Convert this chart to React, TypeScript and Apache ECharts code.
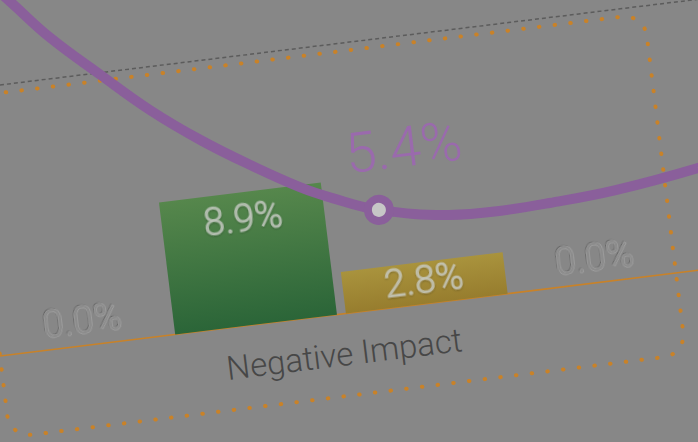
import React, { useEffect, useRef } from "react";
import * as echarts from "echarts";

// ---- data ----
const categories = ["A", "B", "C", "D"];
const barValues = [0.0, 8.9, 2.8, 0.0];
const groupLabel = "Negative Impact";
// purple curve: [position in category units, percent]
const curveX = [-0.3, -0.19, 0.01, 0.28, 0.54, 0.81, 1.08, 1.35, 1.53, 1.79, 2.19, 2.47, 2.78, 3.17, 3.66, 3.8];
const curveY = [20.3, 19.15, 16.98, 14.57, 12.34, 10.38, 8.69, 7.16, 6.35, 5.4, 4.66, 4.54, 4.64, 4.9, 5.55, 5.9];
const markedIndex = 9;

// ---- layout (chart-local frame, then rotated) ----
const CAT = 172; // one category width in px
const LX = 86; // bar grid left
const W = LX + 4 * CAT + 86; // 860
const H = 620;
const BY = 400; // baseline y
const PLOT_H = 269;
const ANGLE = -7;
const ORIGIN_PAGE_Y = 356;

const FONT = 'Roboto, "Liberation Sans", sans-serif';
const PURPLE = "#8a5f9b";
const ORANGE = "#c98228";

const barColors = [
  ["#878787", "#878787"],
  ["#56874c", "#2b6538"],
  ["#a9933d", "#977d2e"],
  ["#878787", "#878787"],
];

export default function App() {
  const ref = useRef<HTMLDivElement>(null);
  useEffect(() => {
    if (!ref.current) return;
    const chart = echarts.init(ref.current, undefined, { renderer: "svg" });
    const embossed = {
      color: "#8c8c8c",
      textBorderColor: "rgba(185,185,185,0.6)",
      textBorderWidth: 1.2,
      textShadowColor: "rgba(0,0,0,0.3)",
      textShadowBlur: 1.5,
      textShadowOffsetX: -1,
      textShadowOffsetY: -1,
    };
    const onBar = {
      color: "rgba(200,204,196,0.75)",
      textBorderColor: "rgba(215,215,215,0.55)",
      textBorderWidth: 1,
      textShadowColor: "rgba(0,0,0,0.35)",
      textShadowBlur: 2,
      textShadowOffsetX: 0,
      textShadowOffsetY: 1,
    };
    const barData = barValues.map((v, i) => {
      const zero = v === 0;
      return {
        value: v,
        itemStyle: {
          color: new echarts.graphic.LinearGradient(0, 0, 0, 1, [
            { offset: 0, color: barColors[i][0] },
            { offset: 1, color: barColors[i][1] },
          ]),
        },
        label: {
          show: true,
          position: zero ? "top" : "insideTop",
          distance: zero ? 6 : i === 1 ? 7 : -1,
          fontSize: 38,
          fontFamily: FONT,
          fontWeight: 300,
          formatter: (p: any) => `${Number(p.value).toFixed(1)}%`,
          ...(zero ? embossed : onBar),
        },
      };
    });
    const lineData = curveX.map((x, i) => {
      if (i !== markedIndex) return [x, curveY[i]];
      return {
        value: [x, curveY[i]],
        symbol: "circle",
        symbolSize: 22,
        itemStyle: { color: "#c6c6c6", borderColor: PURPLE, borderWidth: 8 },
        label: {
          show: true,
          position: "top",
          offset: [32, -11],
          fontSize: 56,
          fontFamily: FONT,
          fontWeight: 300,
          color: "#9a6aad",
          formatter: () => `${curveY[i].toFixed(1)}%`,
        },
      };
    });
    chart.setOption({
      animation: false,
      backgroundColor: "transparent",
      grid: [
        { left: LX, top: BY - PLOT_H, width: 4 * CAT, height: PLOT_H },
        { left: 0, top: BY - PLOT_H, width: W, height: PLOT_H },
      ],
      xAxis: [
        { type: "category", gridIndex: 0, data: categories, show: false },
        { type: "value", gridIndex: 1, min: -1, max: 4, show: false },
      ],
      yAxis: [
        { type: "value", gridIndex: 0, min: 0, max: 18, show: false },
        { type: "value", gridIndex: 1, min: 0, max: 14.7, show: false },
      ],
      graphic: [
        {
          type: "line",
          z: 0,
          shape: { x1: 0, y1: BY - PLOT_H, x2: W, y2: BY - PLOT_H },
          style: { stroke: "#5c5c5c", lineWidth: 1.5, lineDash: [4, 3] },
        },
        {
          type: "line",
          z: 0,
          shape: { x1: 0, y1: BY, x2: W, y2: BY },
          style: { stroke: ORANGE, lineWidth: 1.5 },
        },
        {
          type: "rect",
          z: 0,
          shape: { x: LX, y: BY - 261, width: 681, height: 343, r: 22 },
          style: {
            fill: "none",
            stroke: ORANGE,
            lineWidth: 4,
            lineDash: [0.5, 15.3],
            lineCap: "round",
          },
        },
        {
          type: "text",
          z: 5,
          x: LX + 342,
          y: BY + 40,
          style: {
            text: groupLabel,
            fontSize: 33,
            fontFamily: FONT,
            fontWeight: 300,
            fill: "#474747",
            textAlign: "center",
            textVerticalAlign: "middle",
          },
        },
      ],
      series: [
        {
          type: "bar",
          xAxisIndex: 0,
          yAxisIndex: 0,
          barWidth: 163,
          data: barData,
          z: 2,
        },
        {
          type: "line",
          xAxisIndex: 1,
          yAxisIndex: 1,
          smooth: 0.4,
          clip: false,
          symbol: "none",
          lineStyle: { color: PURPLE, width: 10, cap: "round" },
          data: lineData,
          z: 3,
        },
      ],
    });
    return () => chart.dispose();
  }, []);

  return (
    <div
      style={{
        position: "fixed",
        left: 0,
        top: 0,
        width: 698,
        height: 442,
        overflow: "hidden",
        background: "#878787",
      }}
    >
      <div
        ref={ref}
        style={{
          position: "absolute",
          left: -LX,
          top: ORIGIN_PAGE_Y - BY,
          width: W,
          height: H,
          transformOrigin: `${LX}px ${BY}px`,
          transform: `rotate(${ANGLE}deg)`,
        }}
      />
    </div>
  );
}
